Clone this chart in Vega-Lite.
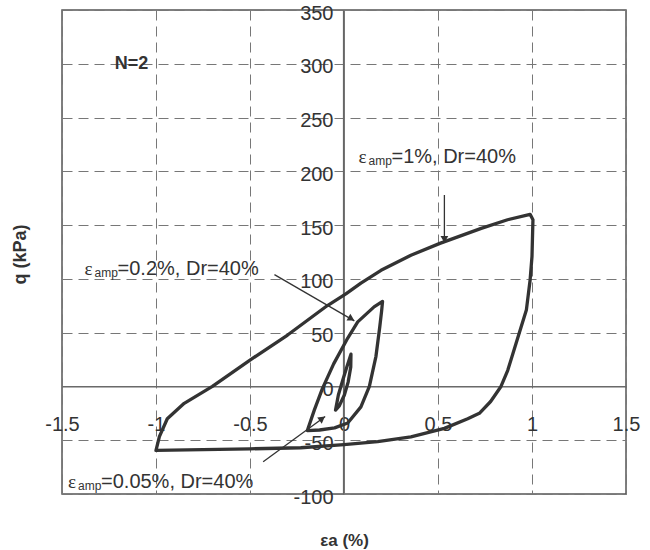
{
  "$schema": "https://vega.github.io/schema/vega-lite/v6.json",
  "width": 564,
  "height": 484,
  "autosize": "none",
  "padding": {"left": 62, "top": 10, "right": 24, "bottom": 56},
  "background": "white",
  "config": {"view": {"stroke": "#555", "strokeWidth": 1.5}, "font": "Liberation Sans"},
  "datasets": {
    "curves": [
      {"s": "1%", "i": 1, "x": -1.0, "q": -59.5},
      {"s": "1%", "i": 2, "x": -0.982, "q": -46.7},
      {"s": "1%", "i": 3, "x": -0.94, "q": -30},
      {"s": "1%", "i": 4, "x": -0.85, "q": -15.7},
      {"s": "1%", "i": 5, "x": -0.7, "q": 0},
      {"s": "1%", "i": 6, "x": -0.5, "q": 24.5},
      {"s": "1%", "i": 7, "x": -0.3, "q": 47.8},
      {"s": "1%", "i": 8, "x": -0.09, "q": 75},
      {"s": "1%", "i": 9, "x": 0.01, "q": 86},
      {"s": "1%", "i": 10, "x": 0.09, "q": 96},
      {"s": "1%", "i": 11, "x": 0.197, "q": 108},
      {"s": "1%", "i": 12, "x": 0.356, "q": 122},
      {"s": "1%", "i": 13, "x": 0.51, "q": 133},
      {"s": "1%", "i": 14, "x": 0.73, "q": 147},
      {"s": "1%", "i": 15, "x": 0.87, "q": 155},
      {"s": "1%", "i": 16, "x": 0.99, "q": 160},
      {"s": "1%", "i": 17, "x": 1.005, "q": 155},
      {"s": "1%", "i": 18, "x": 1.0, "q": 121},
      {"s": "1%", "i": 19, "x": 0.99, "q": 99},
      {"s": "1%", "i": 20, "x": 0.97, "q": 71},
      {"s": "1%", "i": 21, "x": 0.915, "q": 40},
      {"s": "1%", "i": 22, "x": 0.871, "q": 15},
      {"s": "1%", "i": 23, "x": 0.835, "q": 0},
      {"s": "1%", "i": 24, "x": 0.78, "q": -14},
      {"s": "1%", "i": 25, "x": 0.72, "q": -25},
      {"s": "1%", "i": 26, "x": 0.658, "q": -30},
      {"s": "1%", "i": 27, "x": 0.534, "q": -39},
      {"s": "1%", "i": 28, "x": 0.356, "q": -46.8},
      {"s": "1%", "i": 29, "x": 0.179, "q": -51.4},
      {"s": "1%", "i": 30, "x": 0.0, "q": -54},
      {"s": "1%", "i": 31, "x": -0.23, "q": -57},
      {"s": "1%", "i": 32, "x": -0.5, "q": -58},
      {"s": "1%", "i": 33, "x": -1.0, "q": -59.5},
      {"s": "0.2%", "i": 1, "x": -0.195, "q": -41},
      {"s": "0.2%", "i": 2, "x": -0.158, "q": -22},
      {"s": "0.2%", "i": 3, "x": -0.115, "q": -2},
      {"s": "0.2%", "i": 4, "x": -0.055, "q": 21},
      {"s": "0.2%", "i": 5, "x": 0.02, "q": 45},
      {"s": "0.2%", "i": 6, "x": 0.073, "q": 60},
      {"s": "0.2%", "i": 7, "x": 0.16, "q": 74},
      {"s": "0.2%", "i": 8, "x": 0.205, "q": 79},
      {"s": "0.2%", "i": 9, "x": 0.2, "q": 70},
      {"s": "0.2%", "i": 10, "x": 0.19, "q": 55},
      {"s": "0.2%", "i": 11, "x": 0.17, "q": 28},
      {"s": "0.2%", "i": 12, "x": 0.135, "q": 0},
      {"s": "0.2%", "i": 13, "x": 0.09, "q": -19},
      {"s": "0.2%", "i": 14, "x": 0.02, "q": -34},
      {"s": "0.2%", "i": 15, "x": -0.05, "q": -38.5},
      {"s": "0.2%", "i": 16, "x": -0.13, "q": -40.5},
      {"s": "0.2%", "i": 17, "x": -0.195, "q": -41},
      {"s": "0.05%", "i": 1, "x": -0.045, "q": -22},
      {"s": "0.05%", "i": 2, "x": -0.03, "q": -8},
      {"s": "0.05%", "i": 3, "x": -0.008, "q": 5},
      {"s": "0.05%", "i": 4, "x": 0.015, "q": 18},
      {"s": "0.05%", "i": 5, "x": 0.037, "q": 30},
      {"s": "0.05%", "i": 6, "x": 0.036, "q": 18},
      {"s": "0.05%", "i": 7, "x": 0.022, "q": 4},
      {"s": "0.05%", "i": 8, "x": 0.002, "q": -8},
      {"s": "0.05%", "i": 9, "x": -0.025, "q": -18},
      {"s": "0.05%", "i": 10, "x": -0.045, "q": -22}
    ],
    "arrows": [
      {"a": "1%", "i": 1, "x": 0.534, "q": 178},
      {"a": "1%", "i": 2, "x": 0.534, "q": 134},
      {"a": "0.2%", "i": 1, "x": -0.37, "q": 104},
      {"a": "0.2%", "i": 2, "x": 0.055, "q": 61},
      {"a": "0.05%", "i": 1, "x": -0.43, "q": -70},
      {"a": "0.05%", "i": 2, "x": -0.1, "q": -28}
    ],
    "labels": [
      {"x": 0.077, "q": 213, "rest": "=1%, Dr=40%"},
      {"x": -1.38, "q": 109, "rest": "=0.2%, Dr=40%"},
      {"x": -1.468, "q": -89, "rest": "=0.05%, Dr=40%"}
    ],
    "title": [{"x": -1.13, "q": 300, "t": "N=2"}]
  },
  "layer": [
    {
      "data": {"name": "curves"},
      "mark": {"type": "line", "color": "#333", "strokeWidth": 3.3, "strokeJoin": "round", "strokeCap": "round"},
      "encoding": {
        "x": {
          "field": "x", "type": "quantitative",
          "scale": {"domain": [-1.5, 1.5], "nice": false, "zero": false},
          "axis": {
            "orient": "bottom", "offset": -107.6,
            "values": [-1.5, -1, -0.5, 0, 0.5, 1, 1.5],
            "labelExpr": "'' + datum.value",
            "domain": true, "domainColor": "#666", "domainWidth": 1.2,
            "ticks": false, "tickSize": 0,
            "labelFontSize": 20, "labelColor": "#333", "labelFont": "Liberation Sans",
            "labelBaseline": "middle", "labelPadding": 38,
            "labelFlush": false, "labelOverlap": false, "labelBound": false,
            "grid": true, "gridColor": "#777", "gridWidth": 1,
            "gridDash": {"condition": {"test": "datum.value === 0", "value": []}, "value": [10, 6]},
            "title": "εa (%)", "titleFontSize": 17, "titleFontWeight": "bold", "titleColor": "#333",
            "titleY": 154, "titleBaseline": "middle"
          }
        },
        "y": {
          "field": "q", "type": "quantitative",
          "scale": {"domain": [-100, 350], "nice": false, "zero": false},
          "axis": {
            "orient": "left", "offset": -281,
            "values": [-100, -50, 0, 50, 100, 150, 200, 250, 300, 350],
            "labelExpr": "'' + datum.value",
            "domain": true, "domainColor": "#666", "domainWidth": 1.2,
            "ticks": false, "tickSize": 0,
            "labelFontSize": 20, "labelColor": "#333", "labelFont": "Liberation Sans",
            "labelPadding": 10, "labelOffset": 3,
            "labelOverlap": false, "labelBound": false, "labelFlush": false,
            "grid": true, "gridColor": "#777", "gridWidth": 1,
            "gridDash": {"condition": {"test": "datum.value === 0", "value": []}, "value": [10, 6]},
            "title": "q (kPa)", "titleFontSize": 18, "titleFontWeight": "bold", "titleColor": "#333",
            "titleX": -323, "titleY": 244, "titleAngle": -90, "titleAlign": "center", "titleBaseline": "middle"
          }
        },
        "detail": {"field": "s"},
        "order": {"field": "i", "type": "quantitative"}
      }
    },
    {
      "data": {"name": "arrows"},
      "mark": {"type": "line", "color": "#333", "strokeWidth": 1.3},
      "encoding": {
        "x": {"field": "x", "type": "quantitative"},
        "y": {"field": "q", "type": "quantitative"},
        "detail": {"field": "a"},
        "order": {"field": "i", "type": "quantitative"}
      }
    },
    {
      "data": {"name": "arrows"},
      "transform": [{"filter": "datum.a === '1%' && datum.i === 2"}],
      "mark": {"type": "point", "shape": "triangle-down", "filled": true, "color": "#333", "size": 60, "opacity": 1, "yOffset": -3},
      "encoding": {"x": {"field": "x", "type": "quantitative"}, "y": {"field": "q", "type": "quantitative"}}
    },
    {
      "data": {"name": "arrows"},
      "transform": [{"filter": "datum.a === '0.2%' && datum.i === 2"}],
      "mark": {"type": "point", "shape": "triangle-right", "filled": true, "color": "#333", "size": 60, "opacity": 1, "angle": 30, "xOffset": -3, "yOffset": -2},
      "encoding": {"x": {"field": "x", "type": "quantitative"}, "y": {"field": "q", "type": "quantitative"}}
    },
    {
      "data": {"name": "arrows"},
      "transform": [{"filter": "datum.a === '0.05%' && datum.i === 2"}],
      "mark": {"type": "point", "shape": "triangle-right", "filled": true, "color": "#333", "size": 60, "opacity": 1, "angle": -36, "xOffset": -3, "yOffset": 2},
      "encoding": {"x": {"field": "x", "type": "quantitative"}, "y": {"field": "q", "type": "quantitative"}}
    },
    {
      "data": {"name": "labels"},
      "mark": {"type": "text", "text": "ε", "align": "left", "baseline": "middle", "font": "Liberation Serif", "fontSize": 19, "color": "#333"},
      "encoding": {"x": {"field": "x", "type": "quantitative"}, "y": {"field": "q", "type": "quantitative"}}
    },
    {
      "data": {"name": "labels"},
      "mark": {"type": "text", "text": "amp", "align": "left", "baseline": "middle", "font": "Liberation Sans", "fontSize": 12, "dx": 10, "dy": 4, "color": "#333"},
      "encoding": {"x": {"field": "x", "type": "quantitative"}, "y": {"field": "q", "type": "quantitative"}}
    },
    {
      "data": {"name": "labels"},
      "mark": {"type": "text", "align": "left", "baseline": "middle", "font": "Liberation Sans", "fontSize": 20, "dx": 33, "color": "#333"},
      "encoding": {"x": {"field": "x", "type": "quantitative"}, "y": {"field": "q", "type": "quantitative"}, "text": {"field": "rest"}}
    },
    {
      "data": {"name": "title"},
      "mark": {"type": "text", "align": "center", "baseline": "middle", "font": "Liberation Sans", "fontSize": 18, "fontWeight": "bold", "color": "#333"},
      "encoding": {"x": {"field": "x", "type": "quantitative"}, "y": {"field": "q", "type": "quantitative"}, "text": {"field": "t"}}
    }
  ]
}
